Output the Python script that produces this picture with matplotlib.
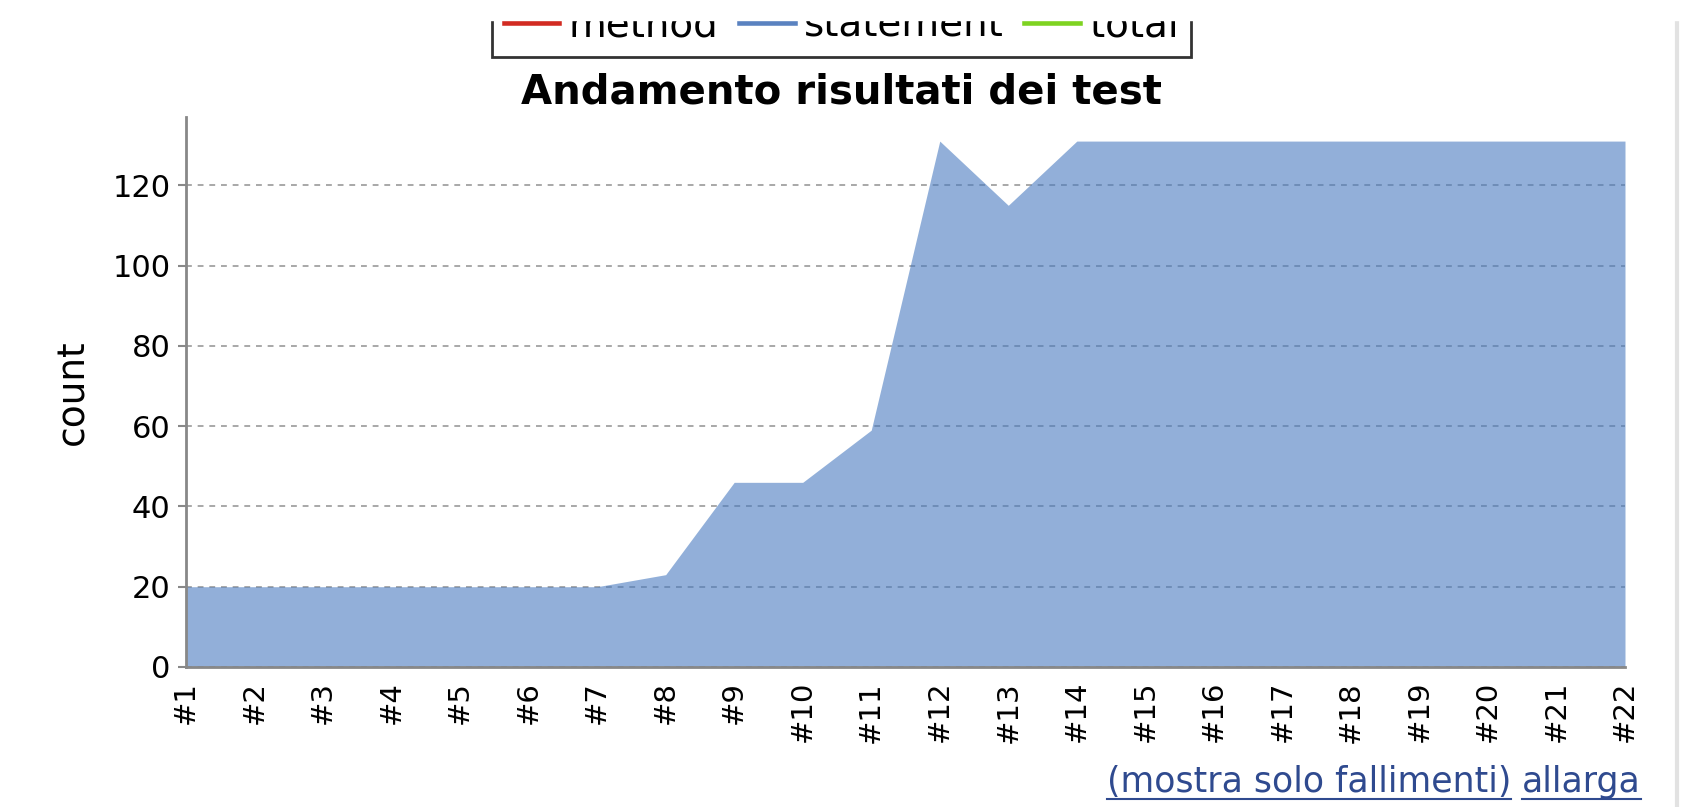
import matplotlib
matplotlib.use('Agg')
import matplotlib.pyplot as plt
from matplotlib.lines import Line2D
from matplotlib.patches import Rectangle

# dati: build e conteggio statement
builds = ['#%d' % i for i in range(1, 23)]
statement = [20, 20, 20, 20, 20, 20, 20, 23, 46, 46, 59,
             131, 115, 131, 131, 131, 131, 131, 131, 131, 131, 131]
series_names = ['method', 'statement', 'total']
series_colors = ['#d22b22', '#5a82c0', '#7ed321']
yticks = [0, 20, 40, 60, 80, 100, 120]
links = ['(mostra solo fallimenti)', 'allarga']

W, H = 1696, 807
fig = plt.figure(figsize=(W / 100, H / 100), dpi=100)
ax = fig.add_axes([186 / W, 1 - 667 / H, (1625 - 186) / W, (667 - 117) / H])

x = list(range(len(builds)))
ax.fill_between(x, 0, statement, color='#497bc0', alpha=0.6, lw=0, zorder=2)

ax.set_xlim(0, len(builds) - 1)
ax.set_ylim(0, 137)
ax.set_xticks(x)
ax.set_xticklabels(builds, rotation=90, fontsize=21)
ax.set_yticks(yticks)
ax.tick_params(axis='y', labelsize=22, length=6, width=1.5, color='#888888', pad=5)
ax.tick_params(axis='x', length=0, pad=10)

ax.grid(axis='y', color='#999999', lw=1.2, linestyle=(0, (3.5, 3.5)), zorder=1)
ax.set_axisbelow(True)
for s in ['top', 'right']:
    ax.spines[s].set_visible(False)
for s in ['left', 'bottom']:
    ax.spines[s].set_color('#888888')
    ax.spines[s].set_linewidth(2)

fig.text(73 / W, 1 - 392 / H, 'count', rotation=90, ha='center', va='center', fontsize=27)
fig.text(841 / W, 1 - 93 / H, 'Andamento risultati dei test', ha='center', va='center',
         fontsize=29, fontweight='bold')

handles = [Line2D([], [], color=c, lw=4) for c in series_colors]
leg = fig.legend(handles, series_names, loc='lower center',
                 bbox_to_anchor=((496 + 1187) / 2 / W, 1 - 57 / H),
                 ncol=3, fontsize=28, frameon=True, fancybox=False,
                 edgecolor='black', borderaxespad=0, borderpad=0.33,
                 handlelength=1.4, handletextpad=0.25, columnspacing=0.55)
leg.get_frame().set_linewidth(2)

# striscia bianca in alto che taglia la legenda
fig.add_artist(Rectangle((0, 1 - 20 / H), 1, 20 / H, transform=fig.transFigure,
                         color='white', zorder=20))
# bordo grigio della pagina a destra
fig.add_artist(Line2D([1677 / W, 1677 / W], [0, 1], transform=fig.transFigure,
                      color='#e2e2e2', lw=3))

link_color = '#2f4a8f'
t2 = fig.text(1641 / W, 1 - 792 / H, links[1], ha='right', va='baseline',
              fontsize=25, color=link_color)
t1 = fig.text(1511 / W, 1 - 792 / H, links[0], ha='right', va='baseline',
              fontsize=25, color=link_color)
fig.canvas.draw()
r = fig.canvas.get_renderer()
for t in [t1, t2]:
    bb = t.get_window_extent(r)
    fig.add_artist(Line2D([bb.x0 / W, bb.x1 / W], [1 - 799 / H, 1 - 799 / H],
                          transform=fig.transFigure, color=link_color, lw=1.5))

fig.savefig('out.png', dpi=100)
